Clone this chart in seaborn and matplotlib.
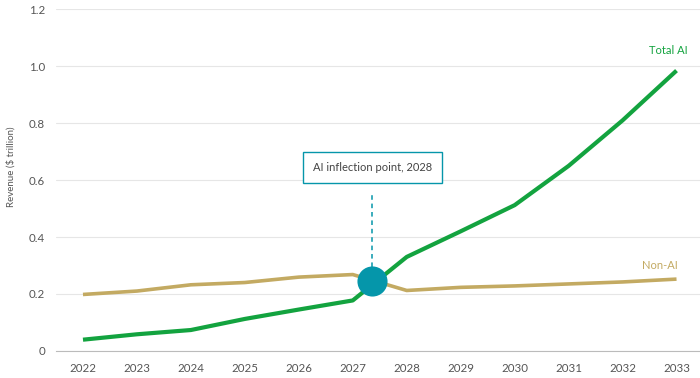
import numpy as np
import pandas as pd
import matplotlib
matplotlib.use("Agg")
import matplotlib.pyplot as plt
import seaborn as sns

years = ["2022", "2023", "2024", "2025", "2026", "2027",
         "2028", "2029", "2030", "2031", "2032", "2033"]
total_ai = [0.039, 0.058, 0.073, 0.112, 0.145, 0.177,
            0.330, 0.420, 0.512, 0.650, 0.810, 0.985]
non_ai = [0.198, 0.210, 0.232, 0.240, 0.259, 0.268,
          0.212, 0.223, 0.228, 0.235, 0.242, 0.252]
yticks = [0, 0.2, 0.4, 0.6, 0.8, 1.0, 1.2]
ytick_labels = ["0", "0.2", "0.4", "0.6", "0.8", "1.0", "1.2"]

# inflection marker (between 2027 and 2028)
infl_x = 5.36
infl_y = 0.246
infl_text = "AI inflection point, 2028"

green = "#13a33f"
tan = "#c3aa62"
teal = "#0596aa"
grey = "#555555"

df = pd.DataFrame({
    "idx": list(range(len(years))) * 2,
    "value": total_ai + non_ai,
    "series": ["Total AI"] * len(years) + ["Non-AI"] * len(years),
})

sns.set_style("white")
plt.rcParams['font.family'] = ['Lato', 'DejaVu Sans']

fig = plt.figure(figsize=(7, 3.78), dpi=100)
ax = fig.add_axes([0.08, 0.072, 0.925, 0.903])

sns.lineplot(data=df, x="idx", y="value", hue="series",
             palette={"Total AI": green, "Non-AI": tan},
             ax=ax, legend=False, zorder=3)
for ln, w in zip(ax.lines, [3.0, 2.6]):
    ln.set_linewidth(w)
    ln.set_solid_capstyle("butt")

ax.set_xlim(-0.5, 11.5)
ax.set_ylim(0, 1.2)
ax.set_yticks(yticks)
ax.set_yticklabels(ytick_labels)
ax.set_xticks(range(len(years)))
ax.set_xticklabels(years)
ax.set_xticks(np.arange(-0.5, 12, 1), minor=True)
ax.tick_params(axis="x", which="major", length=0, pad=9, labelsize=8.3, labelcolor=grey)
ax.tick_params(axis="x", which="minor", length=4, color="#bbbbbb", width=0.8)
ax.tick_params(axis="y", length=0, pad=8, labelsize=8.3, labelcolor=grey)

ax.grid(axis="y", color="#e6e6e6", linewidth=0.8)
ax.set_axisbelow(True)
for s in ["left", "right", "top"]:
    ax.spines[s].set_visible(False)
ax.spines["bottom"].set_color("#bbbbbb")
ax.spines["bottom"].set_linewidth(0.8)
ax.spines["bottom"].set_zorder(1)

ax.set_xlabel("")
ax.set_ylabel("Revenue ($ trillion)", fontsize=7, color=grey)
ax.yaxis.set_label_coords(-0.063, 0.54)

# inflection annotation
ax.plot([infl_x, infl_x], [infl_y + 0.05, 0.549], color=teal,
        linestyle=(0, (3, 2.5)), linewidth=1.1, zorder=2)
ax.scatter([infl_x], [infl_y], s=470, color=teal, zorder=5, linewidths=0)
ax.text(infl_x, 0.645, infl_text, ha="center", va="center", fontsize=8,
        color="#444444", zorder=6,
        bbox=dict(boxstyle="square,pad=0.9", facecolor="white",
                  edgecolor=teal, linewidth=1.0))

ax.text(10.85, 1.055, "Total AI", ha="center", va="center", fontsize=8, color=green)
ax.text(10.7, 0.3, "Non-AI", ha="center", va="center", fontsize=8, color=tan)

fig.savefig("out.png", dpi=100)
